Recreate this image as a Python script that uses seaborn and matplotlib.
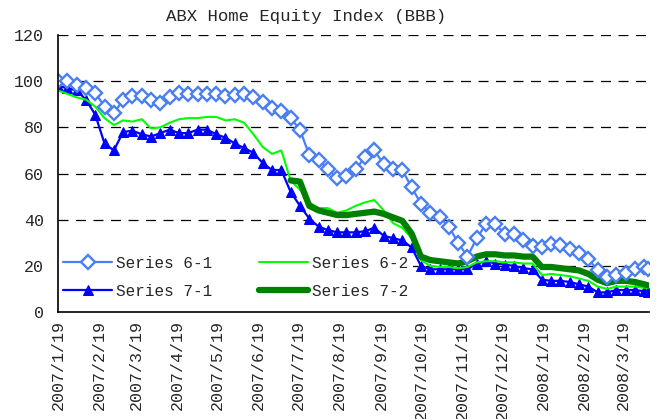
import numpy as np
import pandas as pd
import matplotlib
matplotlib.use("Agg")
import matplotlib.pyplot as plt
import seaborn as sns

# ---------------- data (weekly readings) ----------------
dates = list(pd.date_range("2007-01-19", periods=64, freq="7D")) + [pd.Timestamp("2008-04-07")]

series_6_1 = [100, 100, 98.5, 97, 95, 89, 86, 92, 93.5, 93.5,
              92, 90.5, 93, 95, 94.5, 94.5, 94.5, 94.5, 93.5, 94,
              94.5, 93, 91, 88.5, 87, 84, 79, 68, 66, 62,
              58, 59, 62, 67, 70, 64, 62, 61.5, 54, 47,
              43, 41, 37, 30, 24, 32, 38, 38, 34, 34,
              31, 28.5, 28, 29.5, 29, 27.5, 25.5, 23, 18, 15,
              16, 17, 18.5, 19.5, 18.5]

series_6_2 = [96, 94.5, 93, 92, 89, 84, 81, 83, 82.5, 83.5,
              79.5, 80, 82, 83.5, 84, 84, 84.5, 84.5, 83, 83.5,
              82, 77, 71.5, 68.5, 70, 57, 53, 47.5, 45, 45,
              43, 44, 46, 47.5, 48.5, 44, 38.5, 36.5, 32, 22.5,
              20, 19.5, 19.5, 19, 19.5, 21.5, 22, 22, 21.5, 21.5,
              21, 21, 16, 16.5, 16, 15.5, 14.5, 13.5, 11, 10,
              11, 11, 11, 10.5, 10.5]

series_7_1 = [98, 97, 96, 92, 85.5, 73, 70, 78, 78.5, 77,
              76, 77.5, 79, 77.5, 77.5, 79, 79, 77, 75.5, 73,
              71, 69, 64.5, 61.5, 61.5, 52, 46, 40.5, 37, 35.5,
              34.5, 34.5, 34.5, 35, 36.5, 33, 32, 31, 28, 20,
              18.5, 18.5, 18.5, 18.5, 18.5, 21, 22, 21, 20.5, 20,
              19, 18.5, 14, 13.5, 13.5, 13, 12, 11, 8.5, 8.5,
              9.5, 9.5, 9.5, 9, 8.5]

# Series 7-2 starts in late July 2007 (week index 25)
series_7_2 = [57, 56.5, 46, 44, 43, 42, 42, 42.5, 43, 43.5,
              42.5, 41, 39.5, 34, 24, 22.5, 22, 21.5, 21, 22,
              24, 25, 25, 24.5, 24.5, 24, 24, 19.5, 19.5, 19,
              18.5, 18, 16.5, 14, 12.5, 13.5, 13.5, 13, 12, 11.5]
dates_7_2 = dates[25:]

labels = ["Series 6-1", "Series 6-2", "Series 7-1", "Series 7-2"]
title = "ABX Home Equity Index (BBB)"
tick_dates = pd.date_range("2007-01-01", "2008-03-01", freq="MS") + pd.Timedelta(days=18)
tick_labels = [f"{d.year}/{d.month}/{d.day}" for d in tick_dates]
y_ticks = [0, 20, 40, 60, 80, 100, 120]

# ---------------- style ----------------
sns.set_style("white")
plt.rcParams["font.family"] = ["Liberation Mono", "DejaVu Sans Mono"]

fig = plt.figure(figsize=(6.58, 4.19), dpi=100)
ax = fig.add_axes([58 / 658, 1 - 312 / 419, (649 - 58) / 658, (312 - 35) / 419])

c61 = "#4a7ef5"
c62 = "#00ff00"
c71 = "#0000ff"
c72 = "#008000"

sns.lineplot(x=dates, y=series_7_1, ax=ax, color=c71, lw=1.6,
             marker="^", markersize=7.5, markeredgecolor=c71,
             markerfacecolor=c71, label=labels[2])
sns.lineplot(x=dates, y=series_6_2, ax=ax, color=c62, lw=1.5, label=labels[1])
sns.lineplot(x=dates_7_2, y=series_7_2, ax=ax, color=c72, lw=4.5, label=labels[3])
sns.lineplot(x=dates, y=series_6_1, ax=ax, color=c61, lw=1.6,
             marker="D", markersize=7, markeredgewidth=1.7,
             markeredgecolor=c61, markerfacecolor="white", label=labels[0])

ax.set_ylim(0, 120)
ax.set_xlim(pd.Timestamp("2007-01-19"), pd.Timestamp("2008-04-07 14:00"))
ax.set_yticks(y_ticks)
ax.set_yticklabels([str(v) for v in y_ticks], fontsize=12)
ax.set_xticks(tick_dates)
ax.set_xticklabels(tick_labels, rotation=90, fontsize=12, va="top")
ax.tick_params(axis="x", direction="in", length=5, width=1, color="black", pad=6)
ax.tick_params(axis="y", direction="out", length=4, width=1, color="black", pad=6)
ax.set_xlabel("")
ax.set_ylabel("")

for s in ["top", "right"]:
    ax.spines[s].set_visible(False)
for s in ["left", "bottom"]:
    ax.spines[s].set_color("black")
    ax.spines[s].set_linewidth(1.2)

for v in y_ticks[1:]:
    ax.axhline(v, color="black", lw=0.9, ls=(0, (8, 6)), zorder=0)

handles, labs = ax.get_legend_handles_labels()
hmap = dict(zip(labs, handles))
order = [labels[0], labels[2], labels[1], labels[3]]
leg = ax.legend([hmap[k] for k in order], order, ncol=2, frameon=True,
                loc="lower left", bbox_to_anchor=(0.0, 0.03), borderaxespad=0,
                borderpad=0.3, fontsize=11.5, handlelength=3.1, handletextpad=0.25,
                columnspacing=2.9, labelspacing=0.82, fancybox=False)
leg.get_frame().set_facecolor("white")
leg.get_frame().set_edgecolor("none")
leg.get_frame().set_alpha(1.0)
leg.set_zorder(1.5)

fig.text(306 / 658, 1 - 17 / 419, title, ha="center", va="center", fontsize=12.5)

fig.savefig("out.png", dpi=100)
